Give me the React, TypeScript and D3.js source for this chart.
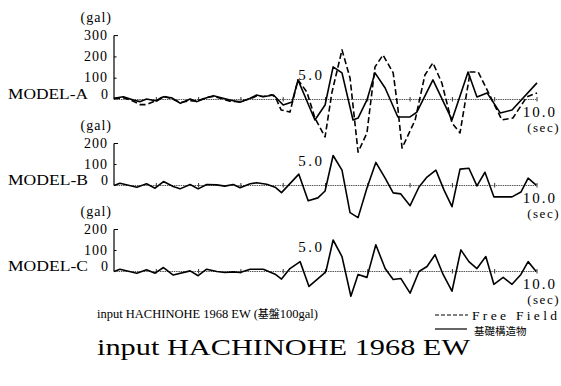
import React from "react";
import * as d3 from "d3";

// ---- Data (time in sec, acceleration in gal) ----
const timesAFree = [0, 0.22, 0.46, 0.61, 0.77, 1.01, 1.17, 1.36, 1.57, 1.8, 1.96, 2.19, 2.35, 2.58, 2.74, 2.98, 3.22, 3.37, 3.53, 3.73, 3.82, 3.95, 4.16, 4.35, 4.56, 4.75, 4.99, 5.15, 5.39, 5.58, 5.77, 5.98, 6.17, 6.36, 6.6, 6.71, 6.81, 7.12, 7.35, 7.54, 7.75, 7.99, 8.18, 8.42, 8.61, 8.82, 9.17, 9.43, 9.76, 10.0];
const accelAFree = [4, 8, -8, -24, -24, -4, 15, 4, -14, -6, -8, 10, 14, 2, -8, -10, 4, 16, 14, 22, 10, -49, -59, 92, 35, -87, -176, 31, 233, 101, -247, -157, 153, 209, 125, -40, -228, -96, 115, 172, 78, -110, -157, 129, 129, 45, -96, -87, 12, 31];

const timesASolid = [0, 0.22, 0.46, 0.61, 0.77, 1.01, 1.17, 1.36, 1.57, 1.8, 1.96, 2.19, 2.35, 2.58, 2.74, 2.98, 3.22, 3.37, 3.53, 3.77, 4.0, 4.21, 4.35, 4.63, 4.75, 4.99, 5.18, 5.39, 5.65, 5.77, 5.98, 6.17, 6.41, 6.71, 7.0, 7.16, 7.54, 7.99, 8.37, 8.58, 8.82, 9.13, 9.41, 10.0];
const accelASolid = [6, 13, -2, -10, 2, -7, 13, 8, -18, 2, -10, 8, 18, 6, -2, -13, 6, 21, 13, 21, -26, -12, 92, -40, -96, -26, 153, 125, -96, -87, -2, 125, 54, -82, -82, -59, 92, -96, 129, 12, 31, -63, -49, 78];

const timesB = [0, 0.14, 0.54, 0.77, 0.97, 1.17, 1.4, 1.56, 1.8, 1.99, 2.19, 2.43, 2.62, 2.82, 2.98, 3.22, 3.37, 3.61, 3.81, 3.96, 4.37, 4.59, 4.82, 4.99, 5.18, 5.39, 5.58, 5.77, 5.98, 6.19, 6.41, 6.6, 6.78, 7.0, 7.21, 7.4, 7.61, 7.8, 7.99, 8.18, 8.39, 8.58, 8.77, 8.98, 9.41, 9.62, 9.79, 9.98];
const accelB = [0, 11, -8, 8, -13, 19, -5, -16, 5, -16, 5, 3, -3, 5, -11, 8, 13, 6, -8, -34, 54, -73, -59, -26, 143, 73, -129, -153, -12, 110, 35, -35, -40, -96, -7, 40, 73, -21, -101, 78, 82, -2, 63, -54, -54, -31, 35, 2];

const timesC = [0, 0.14, 0.54, 0.77, 0.97, 1.17, 1.4, 1.8, 1.99, 2.19, 2.43, 2.62, 2.82, 2.98, 3.22, 3.53, 3.81, 3.96, 4.16, 4.4, 4.61, 4.94, 5.01, 5.18, 5.39, 5.6, 5.77, 5.98, 6.19, 6.41, 6.6, 6.78, 7.0, 7.21, 7.4, 7.59, 7.78, 7.99, 8.2, 8.39, 8.58, 8.79, 8.98, 9.2, 9.41, 9.62, 9.79, 9.98];
const accelC = [0, 11, -8, 8, -8, 19, -17, 3, -20, 11, 0, -5, -2, -5, 11, 11, -13, -36, 14, 47, -71, -14, 0, 150, 71, -118, -14, -28, 127, 14, -38, -33, -103, 0, 24, 80, -14, -94, 103, 47, 14, 71, -61, -28, -61, -14, 47, 0];

const ticksA = [300, 200, 100];
const ticksBC = [200, 100];
const secondTicks = [1, 2, 3, 4, 5, 6, 7, 8, 9, 10];
const modelNames = ["MODEL-A", "MODEL-B", "MODEL-C"];

const SERIF = "Liberation Serif, DejaVu Serif, serif";
const CJK = "Noto Sans CJK JP, Noto Sans CJK SC, sans-serif";

const x = d3.scaleLinear().domain([0, 10]).range([114, 537]);

type Series = { t: number[]; v: number[]; dashed: boolean };

function Panel({ name, ticks, top, zero, series }: { name: string; ticks: number[]; top: number; zero: number; series: Series[] }) {
  const maxTick = ticks[0];
  const y = d3.scaleLinear().domain([0, maxTick]).range([zero, top]);
  const lineGen = d3.line<[number, number]>().x((d) => x(d[0])).y((d) => y(d[1]));
  return (
    <g>
      <text x={112} y={y(maxTick) - 14} textAnchor="end" style={{ fontFamily: SERIF }} fontSize={14} letterSpacing={1}>(gal)</text>
      <line x1={114} x2={114} y1={y(maxTick)} y2={y(0)} stroke="#000" strokeWidth={1.2} />
      <line x1={114} x2={118} y1={y(maxTick)} y2={y(maxTick)} stroke="#000" strokeWidth={1} />
      {ticks.slice(1).map((tk) => (
        <line key={tk} x1={114} x2={116.5} y1={y(tk)} y2={y(tk)} stroke="#000" strokeWidth={1} />
      ))}
      {ticks.map((tk) => (
        <text key={tk} x={108} y={y(tk) + 4} textAnchor="end" style={{ fontFamily: SERIF }} fontSize={14} letterSpacing={1}>{tk}</text>
      ))}
      <text x={108} y={y(0) - 0.5} textAnchor="end" style={{ fontFamily: SERIF }} fontSize={14}>0</text>
      <text x={8} y={y(0) - 0.5} style={{ fontFamily: SERIF }} fontSize={15} textLength={80} lengthAdjust="spacingAndGlyphs">{name}</text>
      <line x1={114} x2={x(10)} y1={y(0)} y2={y(0)} stroke="#555" strokeWidth={1} strokeDasharray="1.5,0.8" />
      {secondTicks.map((s) => (
        <line key={s} x1={x(s)} x2={x(s)} y1={y(0) - 2.5} y2={y(0) + 2} stroke="#333" strokeWidth={1} />
      ))}
      <text x={x(5) - 1} y={y(0) - 20} textAnchor="end" style={{ fontFamily: SERIF }} fontSize={15} letterSpacing={2.5}>5.0</text>
      <text x={557} y={y(0) + 17} textAnchor="end" style={{ fontFamily: SERIF }} fontSize={15} letterSpacing={2}>10.0</text>
      <text x={560} y={y(0) + 32.5} textAnchor="end" style={{ fontFamily: SERIF }} fontSize={13} letterSpacing={1.5}>(sec)</text>
      {series.map((s, i) => (
        <path
          key={i}
          d={lineGen(s.t.map((t, k) => [t, s.v[k]] as [number, number])) || ""}
          fill="none"
          stroke="#000"
          strokeWidth={1.6}
          strokeLinejoin="round"
          strokeDasharray={s.dashed ? "6,3" : undefined}
        />
      ))}
    </g>
  );
}

export default function App() {
  return (
    <svg width={561} height={386} style={{ position: "absolute", left: 0, top: 0, background: "#fff" }}>
      <rect width={561} height={386} fill="#fff" />
      <Panel name={modelNames[0]} ticks={ticksA} top={35.6} zero={99.5}
        series={[{ t: timesAFree, v: accelAFree, dashed: true }, { t: timesASolid, v: accelASolid, dashed: false }]} />
      <Panel name={modelNames[1]} ticks={ticksBC} top={143.5} zero={185.5}
        series={[{ t: timesB, v: accelB, dashed: false }]} />
      <Panel name={modelNames[2]} ticks={ticksBC} top={229.5} zero={271.5}
        series={[{ t: timesC, v: accelC, dashed: false }]} />
      <text x={97} y={318} style={{ fontFamily: SERIF }} fontSize={12.5} textLength={221} lengthAdjust="spacing">
        input HACHINOHE 1968 EW (<tspan style={{ fontFamily: CJK }} fontSize={11}>基盤</tspan>100gal)
      </text>
      <line x1={435} x2={468} y1={315} y2={315} stroke="#000" strokeWidth={1} strokeDasharray="4,2" />
      <text x={472} y={319.5} style={{ fontFamily: SERIF }} fontSize={13.5} textLength={85} lengthAdjust="spacing">Free Field</text>
      <line x1={435} x2={467} y1={329} y2={329} stroke="#000" strokeWidth={1.2} />
      <text x={474} y={335} style={{ fontFamily: CJK }} fontSize={10.5}>基礎構造物</text>
      <text x={97} y={355} style={{ fontFamily: SERIF }} fontSize={23} textLength={373} lengthAdjust="spacingAndGlyphs">input HACHINOHE 1968 EW</text>
    </svg>
  );
}
